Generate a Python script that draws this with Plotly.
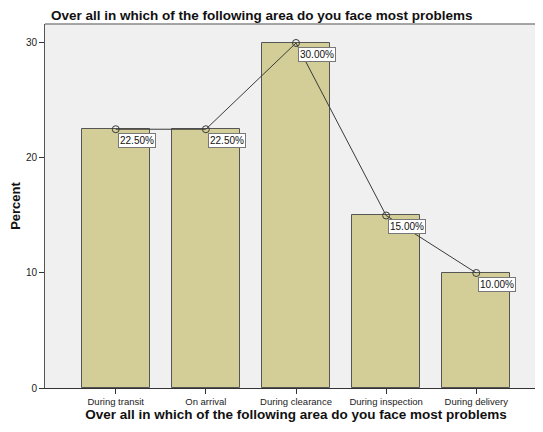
import plotly.graph_objects as go

categories = ["During transit", "On arrival", "During clearance", "During inspection", "During delivery"]
percents = [22.5, 22.5, 30.0, 15.0, 10.0]
labels = ["22.50%", "22.50%", "30.00%", "15.00%", "10.00%"]
title_text = "Over all in which of the following area do you face most problems"

FONT = "Liberation Sans, Arial, sans-serif"

fig = go.Figure()
fig.add_trace(go.Bar(
    x=categories, y=percents, width=0.755,
    marker=dict(color="#D3CE98", line=dict(color="#555555", width=1)),
    hoverinfo="skip", showlegend=False,
))
fig.add_trace(go.Scatter(
    x=categories, y=percents, mode="lines+markers",
    line=dict(color="#3a3a3a", width=1),
    marker=dict(symbol="circle-open", size=7, color="#3a3a3a", line=dict(width=1)),
    showlegend=False,
))
for c, v, t in zip(categories, percents, labels):
    fig.add_annotation(
        x=c, y=v, xref="x", yref="y", text=t, showarrow=False,
        xanchor="left", yanchor="top", xshift=2, yshift=-4,
        bgcolor="white", bordercolor="#777777", borderwidth=1, borderpad=1,
        font=dict(family=FONT, size=10, color="#111111"),
    )

# top border of the plot area
fig.add_shape(type="line", xref="paper", yref="paper", x0=0, x1=1, y0=1, y1=1,
              line=dict(color="#888888", width=1.5))

fig.update_layout(
    width=543, height=432,
    margin=dict(l=37, r=4, t=16, b=52, pad=0),
    paper_bgcolor="white", plot_bgcolor="#F0F0F0",
    font=dict(family=FONT, color="#222222"),
    bargap=0,
    title=dict(text="<b>" + title_text + "</b>", x=43 / 543, xref="container", xanchor="left",
               y=1 - 7.5 / 432, yanchor="middle", pad=dict(l=0, r=0, t=0, b=0),
               font=dict(family=FONT, size=13.5, color="#111111")),
)
fig.update_xaxes(
    type="category", range=[-0.785, 4.785], automargin=False,
    showline=True, linecolor="#333333", linewidth=1,
    ticks="outside", ticklen=5, tickcolor="#333333",
    tickfont=dict(family=FONT, size=9.5, color="#222222"),
    title=dict(text="<b>" + title_text + "</b>", standoff=1,
               font=dict(family=FONT, size=13.5, color="#111111")),
    showgrid=False, zeroline=False,
)
fig.update_yaxes(
    range=[0, 31.65], tickvals=[0, 10, 20, 30], automargin=False,
    showline=True, linecolor="#555555", linewidth=1,
    ticks="outside", ticklen=5, tickcolor="#333333",
    tickfont=dict(family=FONT, size=10, color="#222222"),
    title=dict(text="<b>Percent</b>", standoff=12,
               font=dict(family=FONT, size=13, color="#111111")),
    showgrid=False, zeroline=False,
)

fig.write_html("out.html")
